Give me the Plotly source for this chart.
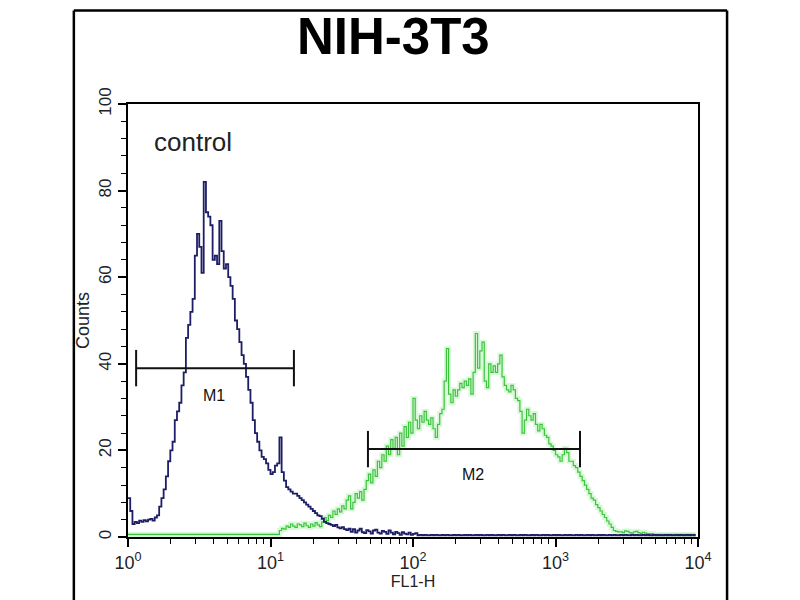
import math
import plotly.graph_objects as go

# FL1-H histogram, 256 log channels across 4 decades
n_channels = 256

# control (blue) counts per channel
control_counts = [
    9, 6, 3, 3.5, 3.2, 3.8, 3.5, 3.9, 3.6, 4, 4.2, 3.8, 4.5, 5, 7, 9,
    11, 14, 17.5, 20, 22, 27, 29, 31, 35, 38, 46, 49, 52, 55, 65, 70,
    67, 61, 82, 75, 74, 72, 64, 65, 63, 73, 66, 62, 63, 60, 58, 55,
    50, 48, 45, 42, 40, 37, 34, 31, 27, 24, 22, 20, 18.5, 18, 17, 15.5,
    14.5, 15, 16.5, 17, 23, 15, 13, 11.5, 11, 10.5, 10, 10, 9.5, 9, 8.5, 8,
    7.5, 7, 6.5, 6, 5.5, 5, 4.8, 4.2, 3.5, 3.2, 3, 2.8, 2.5, 2.8, 2.2, 2,
    2.3, 1.8, 1.6, 1.9, 1.2, 1.8, 1.0, 1.5, 1.9, 1.1, 0.9, 1.6, 1.3, 0.8, 1.5, 1.7,
    1.0, 0.8, 1.4, 1.2, 0.7, 1.5, 1.0, 0.6, 1.2, 0.9, 0.5, 1.1, 0.8, 0.6, 1.0, 0.5,
    0.7, 0.9, 0.4, 0.5, 0.4, 0.5, 0.4, 0.4, 0.5, 0.4, 0.5, 0.4, 0.4, 0.5, 0.4, 0.5,
    0.4, 0.4, 0.5, 0.4, 0.5, 0.4, 0.4, 0.5, 0.4, 0.5, 0.4, 0.4, 0.5, 0.4, 0.5, 0.4,
    0.4, 0.5, 0.4, 0.5, 0.4, 0.4, 0.5, 0.4, 0.5, 0.4, 0.4, 0.5, 0.4, 0.5, 0.4, 0.4,
    0.5, 0.4, 0.5, 0.4, 0.4, 0.5, 0.4, 0.5, 0.4, 0.4, 0.5, 0.4, 0.5, 0.4, 0.4, 0.5,
    0.4, 0.5, 0.4, 0.4, 0.5, 0.4, 0.5, 0.4, 0.4, 0.5, 0.4, 0.5, 0.4, 0.4, 0.5, 0.4,
    0.5, 0.4, 0.4, 0.5, 0.4, 0.5, 0.4, 0.4, 0.5, 0.4, 0.5, 0.4, 0.4, 0.5, 0.4, 0.5,
    0.4, 0.4, 0.5, 0.4, 0.5, 0.4, 0.4, 0.5, 0.4, 0.5, 0.4, 0.4, 0.5, 0.4, 0.5, 0.4,
    0.4, 0.5, 0.4, 0.5, 0.4, 0.4, 0.5, 0.4, 0.5, 0.4, 0.4, 0.5, 0.4, 0.5, 0.4, 0.4,
]

# NIH-3T3 stained sample (green) counts per channel
sample_counts = [
    0.6, 0.6, 0.6, 0.6, 0.6, 0.6, 0.6, 0.6, 0.6, 0.6, 0.6, 0.6, 0.6, 0.6, 0.6, 0.6,
    0.6, 0.6, 0.6, 0.6, 0.6, 0.6, 0.6, 0.6, 0.6, 0.6, 0.6, 0.6, 0.6, 0.6, 0.6, 0.6,
    0.6, 0.6, 0.6, 0.6, 0.6, 0.6, 0.6, 0.6, 0.6, 0.6, 0.6, 0.6, 0.6, 0.6, 0.6, 0.6,
    0.6, 0.6, 0.6, 0.6, 0.6, 0.6, 0.6, 0.6, 0.6, 0.6, 0.6, 0.6, 0.6, 0.6, 0.6, 0.6,
    0.6, 0.6, 0.6, 0.6, 1.5, 2, 1.8, 2.5, 2.2, 3, 2.5, 2.2, 3, 2.8, 2.4, 3.2,
    2.6, 2.2, 3, 2.5, 3.3, 2.8, 2.4, 3.5, 4.5, 3.8, 5, 4.5, 6, 5.2, 6.5, 5.8,
    7.2, 6.5, 8.5, 9.5, 6.5, 8, 10, 9, 10.5, 8.5, 11, 13, 14.5, 12.5, 15.5, 14,
    17.5, 16, 19, 17.5, 21, 19, 22.5, 20.5, 23, 19, 24, 21, 25.5, 23, 26.5, 24,
    32, 27, 25, 28, 26.5, 29, 27, 26, 27.5, 25, 23, 26, 28.5, 29.5, 36, 43.5,
    33, 31, 34, 32.5, 34, 35.5, 34.5, 36, 35, 36.5, 33, 38, 47, 39, 43, 45,
    36, 34.5, 40, 38, 39.5, 38, 40, 42, 37, 35, 34, 33.5, 35, 34, 32, 31.5,
    29, 24, 27, 29.5, 28, 27, 28.5, 26, 24.5, 26, 25, 23.5, 23, 21.5, 21, 20,
    19, 18.5, 17.5, 19, 20.5, 19.5, 17.5, 17.5, 16.5, 16, 15, 14, 13, 12, 11, 10,
    9, 8.5, 7.5, 6.8, 6, 5.2, 4.5, 3.7, 3, 2.2, 1.5, 1.3, 1.2, 1.2, 1.0, 1.4,
    1.3, 1.0, 0.9, 1.2, 1.3, 1.0, 0.8, 1.1, 0.9, 0.8, 0.7, 0.8, 0.6, 0.6, 0.6, 0.6,
    0.6, 0.6, 0.6, 0.6, 0.6, 0.6, 0.6, 0.6, 0.6, 0.6, 0.6, 0.6, 0.6, 0.6, 0.6, 0.6,
]

# marker gates: (label, low, high, level)
gates = [
    ("M1", 1.14, 14.6, 39),
    ("M2", 48.3, 1486, 20.3),
]
gate_label_pos = [(4.0, 32.6), (264, 14.5)]

x_ticks = [1, 10, 100, 1000, 10000]
x_ticktext = ["10<sup>0</sup>", "10<sup>1</sup>", "10<sup>2</sup>", "10<sup>3</sup>", "10<sup>4</sup>"]

fl1 = [10 ** (c * 4 / n_channels) for c in range(n_channels)]

fig = go.Figure()

# green halo + line
fig.add_trace(go.Scatter(x=fl1, y=sample_counts, mode="lines", line_shape="hv",
                         line=dict(color="rgba(160,238,160,0.4)", width=5),
                         hoverinfo="skip"))
fig.add_trace(go.Scatter(x=fl1, y=sample_counts, mode="lines", line_shape="hv",
                         line=dict(color="#3cc43c", width=1.2), name="NIH-3T3"))
fig.add_trace(go.Scatter(x=fl1, y=control_counts, mode="lines", line_shape="hv",
                         line=dict(color="#1e1e66", width=1.8), name="control"))

# gate bars
tick_half = 4.2
for name, lo, hi, lvl in gates:
    fig.add_trace(go.Scatter(
        x=[lo, hi, None, lo, lo, None, hi, hi],
        y=[lvl, lvl, None, lvl - tick_half, lvl + tick_half, None, lvl - tick_half, lvl + tick_half],
        mode="lines", line=dict(color="#111111", width=2), hoverinfo="skip"))

for (name, lo, hi, lvl), (lx, ly) in zip(gates, gate_label_pos):
    fig.add_annotation(x=math.log10(lx), y=ly, text=name, showarrow=False,
                       font=dict(family="Liberation Sans", size=16, color="#111111"))

fig.add_annotation(x=math.log10(2.86), y=91.2, text="control", showarrow=False,
                   font=dict(family="Liberation Sans", size=26, color="#222222"))

# title as a paper annotation so it sits fully inside the page
fig.add_annotation(xref="paper", yref="paper", x=0.466, y=1.156, text="<b>NIH-3T3</b>",
                   showarrow=False, yanchor="middle",
                   font=dict(family="Liberation Sans", size=51, color="black"))

# outer frame
for x0, y0, x1, y1 in [(-0.095, -0.16, -0.095, 1.216), (1.051, -0.16, 1.051, 1.216),
                       (-0.095, 1.216, 1.051, 1.216)]:
    fig.add_shape(type="line", xref="paper", yref="paper", x0=x0, y0=y0, x1=x1, y1=y1,
                  line=dict(color="black", width=2.5))

minor_vals = [m * 10 ** d for d in range(4) for m in range(2, 10)]

fig.update_layout(
    width=800, height=600,
    margin=dict(l=120, r=110, t=96, b=71),
    paper_bgcolor="white", plot_bgcolor="white",
    showlegend=False,
    font=dict(family="Liberation Sans", color="#222222"),
    xaxis=dict(type="log", range=[0, 4], tickvals=x_ticks, ticktext=x_ticktext,
               ticks="outside", ticklen=8, tickwidth=1.5, tickcolor="black",
               showline=True, linecolor="black", linewidth=2, mirror=True,
               showgrid=False, zeroline=False,
               tickfont=dict(size=18, family="Liberation Sans", color="#222222"),
               minor=dict(tickvals=minor_vals, ticks="outside", ticklen=5, tickwidth=1.3,
                          tickcolor="black", showgrid=False),
               title=dict(text="FL1-H", font=dict(size=16, family="Liberation Sans"),
                          standoff=4)),
    yaxis=dict(range=[0, 100], dtick=20, tickangle=-90,
               ticks="outside", ticklen=8, tickwidth=1.5, tickcolor="black",
               showline=True, linecolor="black", linewidth=2, mirror=True,
               showgrid=False, zeroline=False,
               tickfont=dict(size=17, family="Liberation Sans", color="#222222"),
               minor=dict(dtick=4, ticks="outside", ticklen=5, tickwidth=1.3,
                          tickcolor="black", showgrid=False),
               title=dict(text="Counts", font=dict(size=18, family="Liberation Sans"),
                          standoff=2)),
)

fig.write_html("out.html")
